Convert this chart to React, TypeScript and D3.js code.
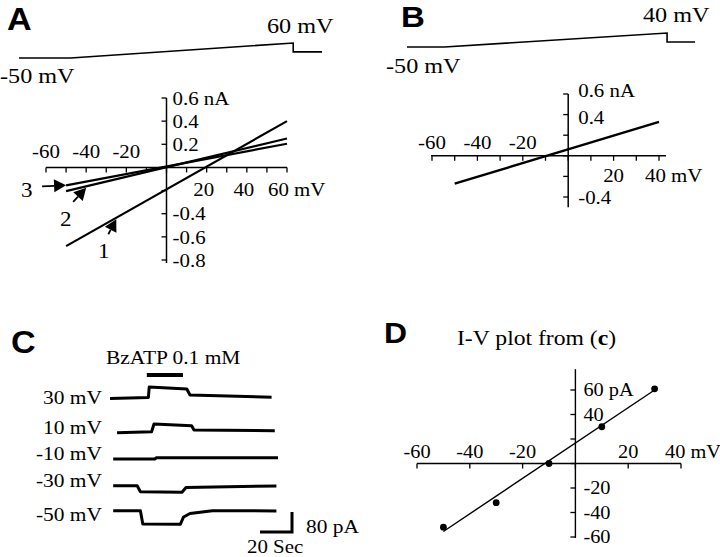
import React from 'react';
import * as d3 from 'd3';

// ---------- DATA ----------
// Panel A/B voltage ramp protocols (time ms, voltage mV)
const rampATime = [0, 170, 905, 905, 1000];
const rampAVolt = [-50, -50, 60, -5, -5];
const rampBTime = [0, 130, 903, 903, 1000];
const rampBVolt = [-50, -50, 40, -18, -18];

// Panel A I-V ramp currents (mV, nA)
const ivA1: [number, number][] = [[-50, -0.68], [60, 0.40]];
const ivA2: [number, number][] = [[-50, -0.205], [60, 0.25]];
const ivA3: [number, number][] = [[-50, -0.155], [60, 0.205]];
// Panel B I-V (mV, nA)
const ivB: [number, number][] = [[-50, -0.27], [40, 0.33]];

// Axis ticks
const aXTicks = [-60, -50, -40, -30, -20, -10, 0, 10, 20, 30, 40, 50, 60];
const aYTicks = [-0.8, -0.6, -0.4, -0.2, 0, 0.2, 0.4, 0.6];
const aXNegLabels = [-60, -40, -20];
const aXPosLabels = [20, 40];
const aYLabels = [0.4, 0.2, -0.4, -0.6, -0.8];
const bXTicks = [-60, -50, -40, -30, -20, -10, 0, 10, 20, 30, 40];
const bYTicks = [-0.4, -0.2, 0, 0.2, 0.4, 0.6];
const bXNegLabels = [-60, -40, -20];
const bXPosLabels = [20];
const bYLabels = [0.4, -0.4];

// Panel C traces (time s, current pA relative to holding)
const traceLabels = ['30 mV', '10 mV', '-10 mV', '-30 mV', '-50 mV'];
const trace30: [number, number][] = [[0, 0], [24, 4], [24.5, 46], [48, 38], [50, 14], [101, 5]];
const trace10: [number, number][] = [[4.4, 0], [26, 4], [27.5, 35], [51, 28], [52.5, 11], [103, 8]];
const traceM10: [number, number][] = [[2, 0], [28, 0], [29, 5], [105, 5]];
const traceM30: [number, number][] = [[2, 0], [17, 0], [19, -24], [45, -26], [47.5, -7], [104, -1]];
const traceM50: [number, number][] = [[2, 0], [19, 0], [20.5, -53], [44, -54], [46, -25], [50, -11], [64, 0], [104, -1]];
const bzatpWindow = [23, 45.6];
const scaleBarTime = 20; // s
const scaleBarCurrent = 80; // pA

// Panel D I-V points (mV, pA)
const dVolt = [-50, -30, -10, 10, 30];
const dCurr = [-52, -32, 0, 30, 61];
const dFit: [number, number][] = [[-50, -55.5], [30, 60]];
const dXTicks = [-60, -40, -20, 0, 20, 40];
const dYTicks = [-60, -40, -20, 0, 20, 40, 60];
const dXLabels = [-60, -40, -20, 20];
const dYLabels = [40, -20, -40, -60];

// ---------- LAYOUT / STYLE ----------
const serif = "'Liberation Serif','Times New Roman',serif";
const sans = "'Liberation Sans',Arial,sans-serif";
const traceBaseY = [398.5, 432.7, 459, 485.7, 510.7];
const traceLabelY = [404, 434, 460, 487, 521];
const SX = 1.1;

function T({ x, y, size, anchor = 'start', dy, family, weight, children }: any) {
  return (
    <text transform={`translate(${x},${y}) scale(${SX},1)`} fontSize={size} textAnchor={anchor}
      dy={dy} fontFamily={family || serif} fontWeight={weight}>{children}</text>
  );
}

function Arrow({ x1, y1, x2, y2, len = 10, hw = 5 }: any) {
  const a = Math.atan2(y2 - y1, x2 - x1);
  const bx = x2 - len * Math.cos(a), by = y2 - len * Math.sin(a);
  const px = -Math.sin(a) * hw, py = Math.cos(a) * hw;
  return (
    <g>
      <line x1={x1} y1={y1} x2={bx} y2={by} stroke="#000" strokeWidth={1.8} />
      <polygon points={`${x2},${y2} ${bx + px},${by + py} ${bx - px},${by - py}`} fill="#000" />
    </g>
  );
}

export default function App() {
  // ---- Panel A scales
  const xA = d3.scaleLinear().domain([-60, 60]).range([46, 287]);
  const yA = d3.scaleLinear().domain([-0.8, 0.6]).range([260, 98]);
  const tA = d3.scaleLinear().domain([0, 1000]).range([19, 322]);
  const vA = d3.scaleLinear().domain([-50, 60]).range([58, 43]);
  const lineA = d3.line<[number, number]>().x(d => xA(d[0])).y(d => yA(d[1]));
  const rampALine = d3.line<number>().x((_, i) => tA(rampATime[i])).y((_, i) => vA(rampAVolt[i]));

  // ---- Panel B scales
  const xB = d3.scaleLinear().domain([-60, 40]).range([432, 659]);
  const yB = d3.scaleLinear().domain([-0.4, 0.6]).range([197, 94]);
  const tB = d3.scaleLinear().domain([0, 1000]).range([407, 695]);
  const vB = d3.scaleLinear().domain([-50, 40]).range([47, 33]);
  const lineB = d3.line<[number, number]>().x(d => xB(d[0])).y(d => yB(d[1]));
  const rampBLine = d3.line<number>().x((_, i) => tB(rampBTime[i])).y((_, i) => vB(rampBVolt[i]));

  // ---- Panel C scales
  const tC = d3.scaleLinear().domain([0, 100]).range([110, 270]);
  const iC = d3.scaleLinear().domain([0, 80]).range([0, -20]);
  const traces = [trace30, trace10, traceM10, traceM30, traceM50];

  // ---- Panel D scales
  const xD = d3.scaleLinear().domain([-60, 40]).range([417, 681]);
  const yD = d3.scaleLinear().domain([-60, 60]).range([537, 390]);
  const lineD = d3.line<[number, number]>().x(d => xD(d[0])).y(d => yD(d[1]));

  const fsAx = 19;

  // arrow tips computed from the line data
  const tip3 = [xA(-50), yA(ivA3[0][1])];
  const l2 = d3.scaleLinear().domain([ivA2[0][0], ivA2[1][0]]).range([ivA2[0][1], ivA2[1][1]]);
  const l1 = d3.scaleLinear().domain([ivA1[0][0], ivA1[1][0]]).range([ivA1[0][1], ivA1[1][1]]);
  const tip2 = [xA(-40), yA(l2(-40)) + 1.5];
  const tip1 = [xA(-25), yA(l1(-25)) + 1.5];

  return (
    <svg width={720} height={557} style={{ position: 'absolute', left: 0, top: 0, background: '#fff' }}
      fontFamily={serif}>
      <rect x={0} y={0} width={720} height={557} fill="#fff" />

      {/* ================= Panel A ================= */}
      <T x={7} y={30} family={sans} size={31} weight="bold">A</T>
      <path d={rampALine(rampATime) || ''} fill="none" stroke="#000" strokeWidth={1.6} />
      <T x={267} y={33} size={22}>60 mV</T>
      <T x={0} y={83} size={22}>-50 mV</T>

      <line x1={xA(-60)} x2={xA(60)} y1={yA(0)} y2={yA(0)} stroke="#000" strokeWidth={1.5} />
      {aXTicks.map(v => (
        <line key={'axt' + v} x1={xA(v)} x2={xA(v)} y1={yA(0)} y2={yA(0) + 5} stroke="#000" strokeWidth={1.3} />
      ))}
      <line x1={xA(0)} x2={xA(0)} y1={yA(0.6)} y2={yA(-0.8) + 3} stroke="#000" strokeWidth={1.5} />
      {aYTicks.map(v => (
        <line key={'ayt' + v} x1={xA(0) - 5} x2={xA(0)} y1={yA(v)} y2={yA(v)} stroke="#000" strokeWidth={1.3} />
      ))}
      <T x={xA(0) + 6} y={yA(0.6)} dy="0.35em" size={fsAx}>0.6 nA</T>
      {aYLabels.map(v => (
        <T key={'ayl' + v} x={xA(0) + 6} y={yA(v)} dy="0.35em" size={fsAx}>{v}</T>
      ))}
      {aXNegLabels.map(v => (
        <T key={'axn' + v} x={xA(v)} y={yA(0) - 9} anchor="middle" size={fsAx}>{v}</T>
      ))}
      {aXPosLabels.map(v => (
        <T key={'axp' + v} x={xA(v) - 3} y={yA(0) + 29} anchor="middle" size={fsAx}>{v}</T>
      ))}
      <T x={xA(60) - 19} y={yA(0) + 29} size={fsAx}>60 mV</T>

      <path d={lineA(ivA1) || ''} stroke="#000" strokeWidth={2.2} fill="none" />
      <path d={lineA(ivA2) || ''} stroke="#000" strokeWidth={2.2} fill="none" />
      <path d={lineA(ivA3) || ''} stroke="#000" strokeWidth={2.2} fill="none" />

      <Arrow x1={tip3[0] - 24} y1={tip3[1] + 1} x2={tip3[0]} y2={tip3[1]} len={12} hw={6.5} />
      <Arrow x1={tip2[0] - 13} y1={tip2[1] + 14} x2={tip2[0]} y2={tip2[1]} len={12} hw={6.5} />
      <Arrow x1={tip1[0] - 8} y1={tip1[1] + 15} x2={tip1[0]} y2={tip1[1]} len={12} hw={6.5} />
      <T x={21} y={197} size={21}>3</T>
      <T x={60} y={226} size={21}>2</T>
      <T x={98} y={258} size={21}>1</T>

      {/* ================= Panel B ================= */}
      <T x={401} y={27} family={sans} size={30} weight="bold">B</T>
      <path d={rampBLine(rampBTime) || ''} fill="none" stroke="#000" strokeWidth={1.6} />
      <T x={643} y={22} size={22}>40 mV</T>
      <T x={386} y={73} size={22}>-50 mV</T>

      <line x1={xB(-60) - 1} x2={xB(40) + 7} y1={yB(0)} y2={yB(0)} stroke="#000" strokeWidth={1.5} />
      {bXTicks.map(v => (
        <line key={'bxt' + v} x1={xB(v)} x2={xB(v)} y1={yB(0)} y2={yB(0) + 5} stroke="#000" strokeWidth={1.3} />
      ))}
      <line x1={xB(0)} x2={xB(0)} y1={yB(0.6)} y2={yB(-0.5)} stroke="#000" strokeWidth={1.5} />
      {bYTicks.map(v => (
        <line key={'byt' + v} x1={xB(0) - 5} x2={xB(0)} y1={yB(v)} y2={yB(v)} stroke="#000" strokeWidth={1.3} />
      ))}
      <T x={xB(0) + 10} y={yB(0.6) - 4} dy="0.35em" size={fsAx}>0.6 nA</T>
      {bYLabels.map(v => (
        <T key={'byl' + v} x={xB(0) + 10} y={yB(v) + (v > 0 ? 3 : 0)} dy="0.35em" size={fsAx}>{v}</T>
      ))}
      {bXNegLabels.map(v => (
        <T key={'bxn' + v} x={xB(v)} y={yB(0) - 7} anchor="middle" size={fsAx}>{v}</T>
      ))}
      {bXPosLabels.map(v => (
        <T key={'bxp' + v} x={xB(v)} y={yB(0) + 26} anchor="middle" size={fsAx}>{v}</T>
      ))}
      <T x={xB(40) - 14} y={yB(0) + 26} size={fsAx}>40 mV</T>
      <path d={lineB(ivB) || ''} stroke="#000" strokeWidth={2.4} fill="none" />

      {/* ================= Panel C ================= */}
      <T x={11} y={353} family={sans} size={31} weight="bold">C</T>
      <T x={106} y={364} size={19.5}>BzATP 0.1 mM</T>
      <line x1={tC(bzatpWindow[0])} x2={tC(bzatpWindow[1])} y1={375} y2={375} stroke="#000" strokeWidth={4} />
      {traces.map((tr, i) => (
        <path key={'tr' + i}
          d={d3.line<[number, number]>().x(d => tC(d[0])).y(d => traceBaseY[i] + iC(d[1]))(tr) || ''}
          fill="none" stroke="#000" strokeWidth={3} strokeLinejoin="round" />
      ))}
      {traceLabels.map((lab, i) => (
        <T key={'tl' + i} x={102} y={traceLabelY[i]} anchor="end" size={19.5}>{lab}</T>
      ))}
      {/* scale bar */}
      <path d={`M${tC(113.75 - scaleBarTime)},${532} H${tC(113.75)} V${532 + iC(scaleBarCurrent)}`}
        fill="none" stroke="#000" strokeWidth={3} />
      <T x={306} y={533} size={19.5}>80 pA</T>
      <T x={247} y={553} size={19}>20 Sec</T>

      {/* ================= Panel D ================= */}
      <T x={384} y={343} family={sans} size={29} weight="bold">D</T>
      <T x={457} y={345} size={21.5}>I-V plot from (<tspan fontWeight="bold">c</tspan>)</T>

      <line x1={xD(-60)} x2={xD(40)} y1={yD(0)} y2={yD(0)} stroke="#000" strokeWidth={1.4} />
      {dXTicks.map(v => (
        <line key={'dxt' + v} x1={xD(v)} x2={xD(v)} y1={yD(0)} y2={yD(0) + 5} stroke="#000" strokeWidth={1.3} />
      ))}
      <line x1={xD(0)} x2={xD(0)} y1={yD(77)} y2={yD(-60) + 1} stroke="#000" strokeWidth={1.4} />
      {dYTicks.map(v => (
        <line key={'dyt' + v} x1={xD(0) - 5} x2={xD(0)} y1={yD(v)} y2={yD(v)} stroke="#000" strokeWidth={1.3} />
      ))}
      <T x={xD(0) + 8} y={yD(60)} dy="0.35em" size={18.5}>60 pA</T>
      {dYLabels.map(v => (
        <T key={'dyl' + v} x={xD(0) + 8} y={yD(v)} dy="0.35em" size={18.5}>{v}</T>
      ))}
      {dXLabels.map(v => (
        <T key={'dxl' + v} x={xD(v)} y={yD(0) - 6} anchor="middle" size={18.5}>{v}</T>
      ))}
      <T x={xD(40) - 16} y={yD(0) - 6} size={18.5}>40 mV</T>
      <path d={lineD(dFit) || ''} stroke="#000" strokeWidth={1.4} fill="none" />
      {dVolt.map((v, i) => (
        <circle key={'dp' + i} cx={xD(v)} cy={yD(dCurr[i])} r={3.4} fill="#000" />
      ))}
    </svg>
  );
}
